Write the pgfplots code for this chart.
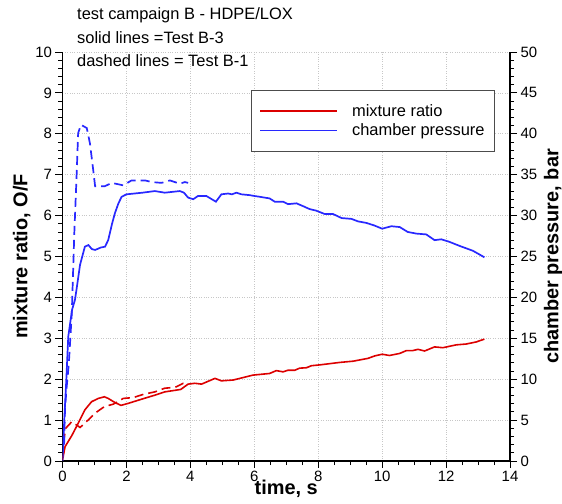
\documentclass[border=0pt]{standalone}
\usepackage{fontspec}
\setmainfont{Liberation Sans}
\usepackage{pgfplots}
\pgfplotsset{compat=1.18}
\definecolor{mrred}{RGB}{220,0,0}
\definecolor{pblue}{RGB}{40,40,255}
\pgfplotsset{
  common/.style={
    at={(0,0)}, anchor=south west,
    scale only axis, width=447.5bp, height=409bp,
    xmin=0, xmax=14,
    tick align=outside,
    major tick length=7bp, minor tick length=4bp,
    tick style={black, line width=0.9bp},
    axis line style={black, line width=1.6bp},
    /pgf/number format/assume math mode=true,
    tick label style={font=\fontsize{15}{15}\selectfont},
    label style={font=\bfseries\fontsize{20}{20}\selectfont},
  },
}
\begin{document}
\begin{tikzpicture}
\useasboundingbox (-62.5bp,-43bp) rectangle (499.5bp,461bp);
\begin{axis}[common,
  ymin=0, ymax=10,
  axis x line*=bottom, axis y line*=left,
  xtick={0,2,...,14}, ytick={0,1,...,10},
  minor x tick num=3, minor y tick num=4,
  xmajorgrids, ymajorgrids,
  grid style={dotted, black!22, line width=0.7bp},
  xlabel={time, s},
  ylabel={mixture ratio, O/F},
  xlabel style={yshift=9bp},
  ylabel style={yshift=-2bp},
]
\addplot[mrred, line width=1.6bp] coordinates {
(0,0.02)(0.08,0.35)(0.29,0.62)(0.49,0.92)(0.7,1.25)(0.91,1.45)(1.12,1.53)(1.31,1.57)
(1.43,1.53)(1.64,1.43)(1.83,1.36)(2.06,1.41)(2.47,1.51)(2.89,1.61)(3.2,1.69)(3.7,1.75)
(3.93,1.88)(4.14,1.9)(4.35,1.88)(4.77,2.02)(4.97,1.96)(5.34,1.98)(5.96,2.1)(6.48,2.14)
(6.69,2.21)(6.9,2.18)(7.06,2.22)(7.27,2.22)(7.42,2.27)(7.63,2.28)(7.79,2.33)(8.05,2.35)
(8.67,2.41)(9.09,2.44)(9.56,2.51)(9.77,2.57)(10.0,2.61)(10.23,2.58)(10.55,2.63)(10.76,2.70)
(10.96,2.70)(11.12,2.73)(11.33,2.69)(11.64,2.79)(11.9,2.77)(12.32,2.84)(12.63,2.86)(12.94,2.91)
(13.2,2.98)
};
\addplot[mrred, line width=1.6bp, dash pattern=on 9bp off 5bp] coordinates {
(0.03,0.45)(0.1,0.8)(0.29,0.96)(0.55,0.82)(0.8,1.0)(1.02,1.17)(1.31,1.33)(1.59,1.39)
(1.9,1.53)(2.21,1.55)(2.53,1.63)(2.89,1.69)(3.2,1.78)(3.52,1.80)(3.78,1.90)(3.93,1.91)
};
\end{axis}
\begin{axis}[common,
  ymin=0, ymax=50,
  axis y line*=right, hide x axis,
  ytick={0,5,...,50}, minor y tick num=4,
  ylabel={chamber pressure, bar},
  legend cell align=left,
  legend style={at={(0.421,0.907)}, anchor=north west,
    draw=black!70, line width=0.8bp, fill=white,
    font=\fontsize{16.5}{18}\selectfont,
    inner xsep=8bp, inner ysep=12bp, column sep=12bp, row sep=2bp},
  legend image code/.code={\draw[#1, line width=1.8bp] (0bp,0bp) -- (77bp,0bp);},
]
\addlegendimage{mrred}
\addlegendentry{mixture ratio}
\addplot[pblue, line width=1.7bp] coordinates {
(0,0)(0.06,5.4)(0.12,10)(0.18,15.2)(0.3,18.5)(0.39,19.7)(0.44,21)(0.55,24)(0.7,26.2)
(0.81,26.4)(0.92,25.9)(1.02,25.8)(1.2,26.1)(1.33,26.2)(1.43,27)(1.55,29)(1.64,30.3)
(1.75,31.5)(1.85,32.3)(2.0,32.6)(2.5,32.8)(2.89,33.0)(3.2,32.8)(3.67,33.0)(3.8,32.8)
(3.93,32.2)(4.09,32.0)(4.24,32.4)(4.5,32.4)(4.8,31.7)(4.97,32.6)(5.18,32.7)(5.3,32.6)
(5.44,32.8)(5.6,32.6)(5.86,32.5)(6.0,32.4)(6.17,32.3)(6.48,32.1)(6.64,31.7)(6.9,31.7)
(7.06,31.4)(7.32,31.5)(7.5,31.2)(7.73,30.8)(7.94,30.6)(8.2,30.2)(8.46,30.2)(8.73,29.7)
(9.04,29.6)(9.24,29.3)(9.51,29.1)(9.75,28.8)(10.0,28.4)(10.29,28.7)(10.55,28.6)(10.8,28.0)
(11.07,27.8)(11.38,27.7)(11.64,27.0)(11.85,27.1)(12.1,26.8)(12.42,26.3)(12.84,25.7)(13.2,24.9)
};
\addlegendentry{chamber pressure}
\addplot[pblue, line width=1.7bp, dash pattern=on 9bp off 5bp, forget plot] coordinates {
(0.05,2)(0.08,6.5)(0.13,9)(0.2,12)(0.29,18)(0.37,27.9)(0.44,34.8)(0.49,40.1)(0.58,41.1)
(0.76,40.7)(0.86,38.8)(0.96,35.6)(1.02,33.6)(1.33,33.6)(1.54,34.0)(1.9,33.7)(2.16,34.3)
(2.58,34.3)(2.79,34.1)(3.1,34.0)(3.36,34.3)(3.67,33.9)(3.83,34.1)(3.93,34.0)
};
\end{axis}
\begin{scope}[every node/.style={anchor=base west, font=\fontsize{16.5}{18}\selectfont, inner sep=0pt}]
\node at (14.5bp,441bp) {test campaign B - HDPE/LOX};
\node at (14.5bp,417.5bp) {solid lines =Test B-3};
\node at (14.5bp,394bp) {dashed lines = Test B-1};
\end{scope}
\end{tikzpicture}
\end{document}
